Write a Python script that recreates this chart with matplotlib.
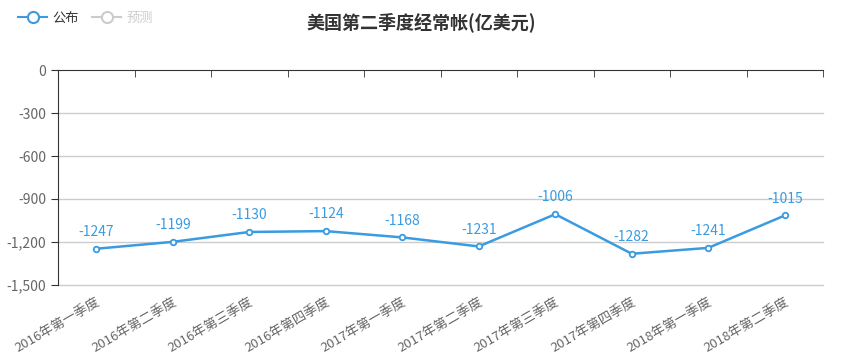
import numpy as np
import matplotlib.pyplot as plt
from matplotlib.lines import Line2D
from matplotlib.ticker import FuncFormatter

plt.rcParams['font.family'] = ['Noto Sans CJK SC', 'DejaVu Sans']

quarters = ['2016年第一季度', '2016年第二季度', '2016年第三季度', '2016年第四季度',
            '2017年第一季度', '2017年第二季度', '2017年第三季度', '2017年第四季度',
            '2018年第一季度', '2018年第二季度']
published = [-1247, -1199, -1130, -1124, -1168, -1231, -1006, -1282, -1241, -1015]
yticks = [0, -300, -600, -900, -1200, -1500]

blue = '#3a9be0'
fig = plt.figure(figsize=(8.42, 3.57), dpi=100)
ax = fig.add_axes([58 / 842, 1 - 285 / 357, 765 / 842, 215 / 357])

x = np.arange(len(quarters))
ax.plot(x, published, color=blue, lw=1.8, marker='o', ms=4,
        mfc='white', mec=blue, mew=1.3, zorder=3)
for xi, v in zip(x, published):
    ax.annotate(str(v), (xi, v), xytext=(0, 7), textcoords='offset points',
                ha='center', va='bottom', color=blue, fontsize=10)

ax.set_xlim(-0.5, len(quarters) - 0.5)
ax.set_ylim(-1500, 0)
ax.set_yticks(yticks)
ax.yaxis.set_major_formatter(FuncFormatter(lambda v, p: f'{int(v):,}'))
for t in yticks[1:]:
    ax.axhline(t, color='#cccccc', lw=1, zorder=0, clip_on=False)

for s in ['right', 'bottom']:
    ax.spines[s].set_visible(False)
ax.spines['left'].set_color('#333333')
ax.spines['top'].set_color('#333333')
ax.tick_params(axis='y', colors='#333333', labelcolor='#666666', labelsize=10,
               length=5, direction='out')

# category labels below the plot, boundary ticks on the top axis
ax.set_xticks(x)
ax.set_xticklabels(quarters, rotation=30, ha='right', rotation_mode='anchor',
                   color='#666666', fontsize=9.5)
ax.tick_params(axis='x', length=0, pad=8)
ax.set_xticks(np.arange(len(quarters) + 1) - 0.5, minor=True)
ax.tick_params(axis='x', which='minor', top=True, bottom=False, direction='in',
               length=5, color='#333333')

fig.text(0.5, 1 - 22 / 357, '美国第二季度经常帐(亿美元)', ha='center', va='center',
         fontsize=13, fontweight='bold', color='#333333')

handles = [Line2D([], [], color=blue, marker='o', ms=8, mfc='white', mew=1.5, lw=1.5),
           Line2D([], [], color='#cccccc', marker='o', ms=8, mfc='white', mew=1.5, lw=1.5)]
leg = fig.legend(handles, ['公布', '预测'], loc='center left',
                 bbox_to_anchor=(18 / 842, 1 - 18 / 357), ncol=2, frameon=False,
                 fontsize=9.5, handlelength=2.2, handletextpad=0.4, columnspacing=1.0,
                 borderpad=0, borderaxespad=0)
leg.get_texts()[0].set_color('#333333')
leg.get_texts()[1].set_color('#cccccc')

fig.savefig('out.png', dpi=100)
